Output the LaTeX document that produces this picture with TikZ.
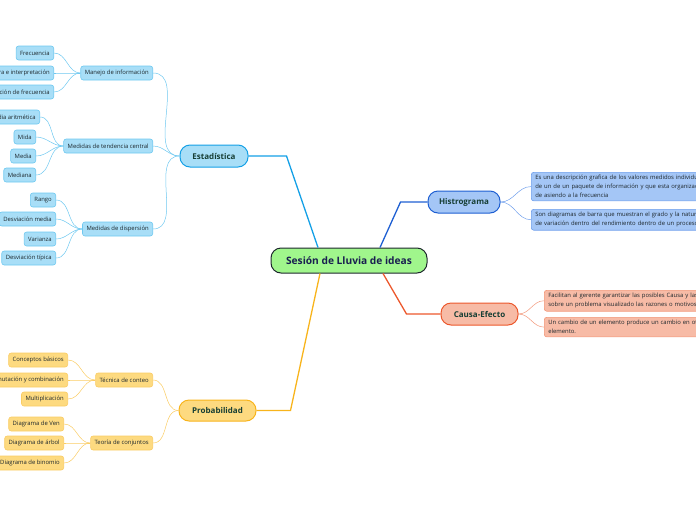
\documentclass[tikz,border=0pt]{standalone}
\usepackage{fontspec}
\setmainfont{Open Sans}
\usepackage{xcolor}
\usetikzlibrary{positioning,calc}
\definecolor{ink}{RGB}{30,40,45}
\definecolor{deep}{RGB}{22,62,52}
\definecolor{navy}{RGB}{25,30,80}
\definecolor{hubfill}{RGB}{160,246,140}
\definecolor{estd}{RGB}{20,160,230}
\definecolor{estf}{RGB}{168,222,247}
\definecolor{estl}{RGB}{110,200,240}
\definecolor{histd}{RGB}{30,95,210}
\definecolor{histf}{RGB}{164,198,246}
\definecolor{histl}{RGB}{110,158,236}
\definecolor{caud}{RGB}{236,88,44}
\definecolor{cauf}{RGB}{247,187,166}
\definecolor{caul}{RGB}{242,150,120}
\definecolor{probd}{RGB}{248,180,28}
\definecolor{probf}{RGB}{253,218,128}
\definecolor{probl}{RGB}{250,204,100}
\begin{document}
\begin{tikzpicture}[x=1pt,y=-1pt,font=\fontsize{5.9}{9}\selectfont]
\tikzset{topic/.style={rounded corners=10pt,line width=1pt,minimum height=22pt,inner sep=2pt,font=\fontsize{8}{9}\selectfont\bfseries,text=deep},
  leaf/.style={draw,rounded corners=2.5pt,line width=0.6pt,minimum height=14pt,inner xsep=4pt,inner ysep=1pt,text=ink},
  note/.style={leaf,anchor=north west,align=left,text width=260pt,inner ysep=3pt},
  estleaf/.style={leaf,draw=estl,fill=estf},histleaf/.style={note,draw=histl,fill=histf},
  cauleaf/.style={note,draw=caul,fill=cauf},probleaf/.style={leaf,draw=probl,fill=probf},
  link/.style={line width=0.5pt},trunk/.style={line width=1.3pt}}
\useasboundingbox (0,0) rectangle (696,520);
\node[topic,draw=ink,fill=hubfill,minimum width=156pt,minimum height=25pt,font=\fontsize{10.2}{12}\selectfont\bfseries,text=navy] (c) at (349,260.5) {Sesión de Lluvia de ideas};
\node[topic,draw=estd,fill=estf,minimum width=68pt] (est) at (214,156) {Estadística};
\node[topic,draw=histd,fill=histf,minimum width=72pt] (hist) at (464,202) {Histrograma};
\node[topic,draw=caud,fill=cauf,minimum width=77pt] (cau) at (479.5,314) {Causa-Efecto};
\node[topic,draw=probd,fill=probf,minimum width=77pt,minimum height=21pt] (prob) at (217.5,410.5) {Probabilidad};
\draw[trunk,estd] ($(c.north)+(-31,0)$) -- ($(est.east)+(38,0)$) -- (est.east);
\draw[trunk,histd] ($(c.north)+(31,0)$) -- ($(hist.west)+(-27,0)$) -- (hist.west);
\draw[trunk,caud] ($(c.south)+(34,0)$) -- ($(cau.west)+(-34,0)$) -- (cau.west);
\draw[trunk,probd] ($(c.south)+(-29,0)$) -- ($(prob.east)+(34,0)$) -- (prob.east);
% Estadistica
\node[estleaf,anchor=east] (man) at (153,73) {Manejo de información};
\node[estleaf,anchor=east] (tend) at (153,146) {Medidas de tendencia central};
\node[estleaf,anchor=east] (disp) at (153,229) {Medidas de dispersión};
\node[estleaf,anchor=east] (frec) at (54,53) {Frecuencia};
\node[estleaf,anchor=east] (lect) at (54,73) {Lectura e interpretación};
\node[estleaf,anchor=east] (dist) at (54,92) {Distribución de frecuencia};
\node[estleaf,anchor=east] (arit) at (40,117) {Media aritmética};
\node[estleaf,anchor=east] (mida) at (36,137) {Mida};
\node[estleaf,anchor=east] (media) at (36,156) {Media};
\node[estleaf,anchor=east] (mediana) at (36,175) {Mediana};
\node[estleaf,anchor=east] (rango) at (56,200) {Rango};
\node[estleaf,anchor=east] (desvm) at (56,219) {Desviación media};
\node[estleaf,anchor=east] (vari) at (56,239) {Varianza};
\node[estleaf,anchor=east] (desvt) at (56,258) {Desviación típica};
\foreach \k in {man,tend,disp} \draw[link,estl] (est.west) to[out=180,in=0] (\k.east);
\foreach \k in {frec,lect,dist} \draw[link,estl] (man.west) to[out=180,in=0] (\k.east);
\foreach \k in {arit,mida,media,mediana} \draw[link,estl] (tend.west) to[out=180,in=0] (\k.east);
\foreach \k in {rango,desvm,vari,desvt} \draw[link,estl] (disp.west) to[out=180,in=0] (\k.east);
% Probabilidad
\node[probleaf,anchor=east] (tec) at (153,380) {Técnica de conteo};
\node[probleaf,anchor=east] (teo) at (153,443) {Teoría de conjuntos};
\node[probleaf,anchor=east] (conc) at (68,360) {Conceptos básicos};
\node[probleaf,anchor=east] (perm) at (68,380) {Permutación y combinación};
\node[probleaf,anchor=east] (mult) at (68,399) {Multiplicación};
\node[probleaf,anchor=east] (ven) at (64,424) {Diagrama de Ven};
\node[probleaf,anchor=east] (arb) at (64,443) {Diagrama de árbol};
\node[probleaf,anchor=east] (bin) at (64,463) {Diagrama de binomio};
\foreach \k in {tec,teo} \draw[link,probl] (prob.west) to[out=180,in=0] (\k.east);
\foreach \k in {conc,perm,mult} \draw[link,probl] (tec.west) to[out=180,in=0] (\k.east);
\foreach \k in {ven,arb,bin} \draw[link,probl] (teo.west) to[out=180,in=0] (\k.east);
% Histrograma and Causa-Efecto
\node[histleaf] (h1) at (531,172) {Es una descripción grafica de los valores medidos individualmente\\de un de un paquete de información y que esta organizado\\de asiendo a la frecuencia};
\node[histleaf] (h2) at (531,209) {Son diagramas de barra que muestran el grado y la naturaleza\\de variación dentro del rendimiento dentro de un proceso};
\node[cauleaf] (c1) at (544,290) {Facilitan al gerente garantizar las posibles Causa y las soluciones\\sobre un problema visualizado las razones o motivos};
\node[cauleaf] (c2) at (544,317) {Un cambio de un elemento produce un cambio en otro\\elemento.};
\foreach \k in {h1,h2} \draw[link,histl] (hist.east) to[out=0,in=180] (\k.west);
\foreach \k in {c1,c2} \draw[link,caul] (cau.east) to[out=0,in=180] (\k.west);
\end{tikzpicture}
\end{document}
